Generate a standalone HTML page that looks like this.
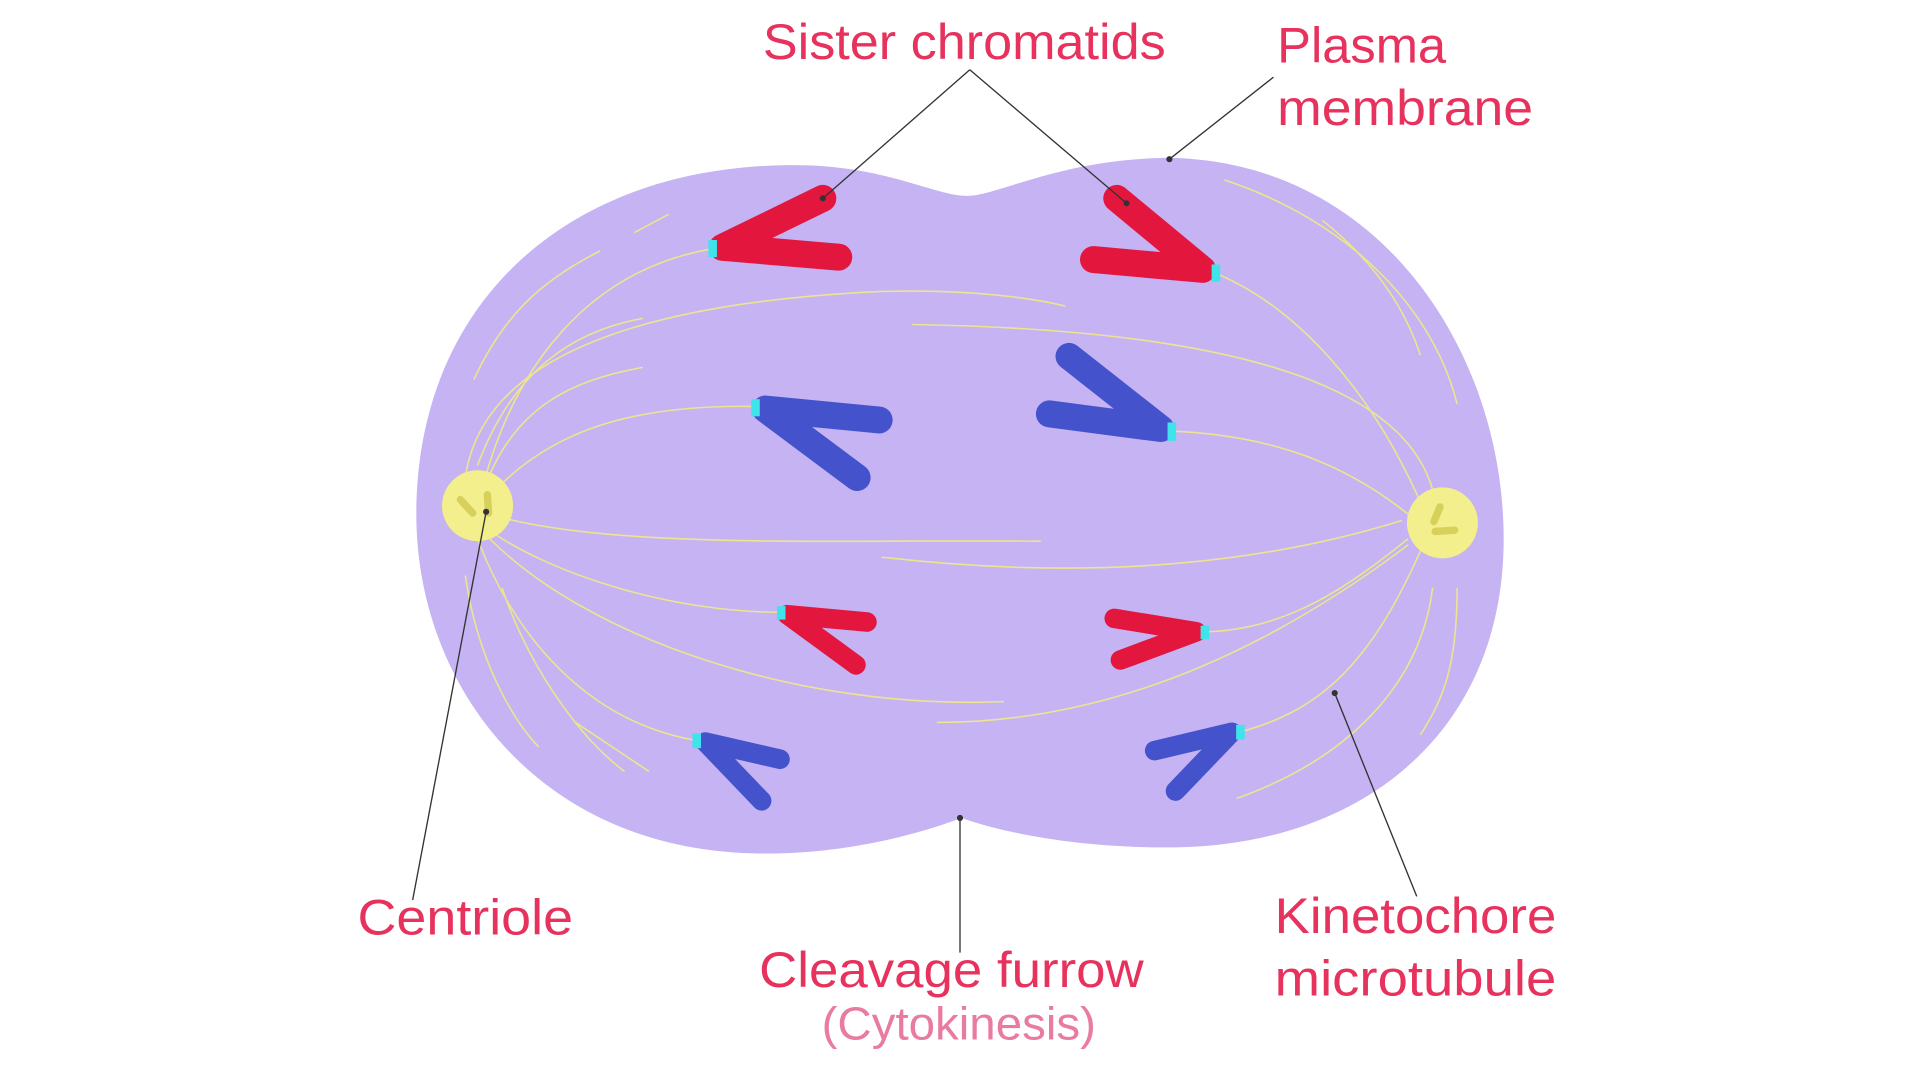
<!DOCTYPE html>
<html><head><meta charset="utf-8"><style>
html,body{margin:0;padding:0;background:#fff;width:1920px;height:1080px;overflow:hidden}
svg{display:block}
text{font-family:"Liberation Sans",sans-serif;fill:#e6325c}
</style></head><body>
<svg width="1920" height="1080" viewBox="0 0 1568 882">
<path fill="#c5b3f3" d="M790,160 C815,160 870,128 960,129 C1130,135 1228,290 1228,440 C1228,600 1110,690 960,692 C880,693 820,680 785,668 C740,685 680,698 620,697 C440,695 340,560 340,420 C340,250 460,138 640,135 C720,133 762,160 790,160 Z"/>
<g fill="none" stroke="#ece58f" stroke-width="1.3">
<path d="M400,405 C450,350 520,330 618,332"/>
<path d="M395,395 C420,300 480,220 583,203"/>
<path d="M400,420 C500,450 700,440 850,442"/>
<path d="M395,430 C450,470 550,500 638,500"/>
<path d="M390,440 C420,520 480,590 570,605"/>
<path d="M400,440 C480,520 650,580 820,573"/>
<path d="M380,390 C390,320 460,250 720,238 C800,236 850,245 870,250"/>
<path d="M390,380 C420,300 470,270 525,260"/>
<path d="M395,400 C420,330 470,310 525,300"/>
<path d="M518,190 L546,175"/>
<path d="M387,310 C410,260 440,230 490,205"/>
<path d="M1150,420 C1100,380 1040,355 955,352"/>
<path d="M1160,410 C1120,320 1060,250 990,222"/>
<path d="M1145,425 C1000,470 850,470 720,455"/>
<path d="M1150,440 C1100,480 1050,515 983,516"/>
<path d="M1160,450 C1120,540 1080,580 1012,598"/>
<path d="M1150,445 C1050,520 920,590 765,590"/>
<path d="M1170,400 C1150,330 1050,270 745,265"/>
<path d="M1000,147 C1100,180 1170,250 1190,330"/>
<path d="M1080,180 C1130,220 1150,260 1160,290"/>
<path d="M1170,480 C1160,560 1100,620 1010,652"/>
<path d="M1190,480 C1190,540 1180,570 1160,600"/>
<path d="M410,480 C430,540 470,600 510,630"/>
<path d="M470,590 L530,630"/>
<path d="M380,470 C390,540 420,590 440,610"/>
</g>
<g>
<circle cx="390" cy="413" r="29" fill="#f3ef8c"/>
<line x1="376" y1="408" x2="386" y2="419" stroke="#d7d05a" stroke-width="6" stroke-linecap="round"/>
<line x1="398" y1="404" x2="399" y2="419" stroke="#d7d05a" stroke-width="6" stroke-linecap="round"/>
</g>
<g>
<circle cx="1178" cy="427" r="29" fill="#f3ef8c"/>
<line x1="1176" y1="414" x2="1171" y2="426" stroke="#d7d05a" stroke-width="6" stroke-linecap="round"/>
<line x1="1172" y1="434" x2="1188" y2="433" stroke="#d7d05a" stroke-width="6" stroke-linecap="round"/>
</g>
<g fill="none" stroke-linecap="round" stroke-linejoin="round">
<g stroke="#e3173e" stroke-width="22">
<polyline points="672,162 590,202 685,210"/>
<polyline points="912,162 982,220 893,212"/>
</g>
<g stroke="#4453cc" stroke-width="22">
<polyline points="718,343 625,334 700,390"/>
<polyline points="873,291 948,350 857,338"/>
</g>
<g stroke="#e3173e" stroke-width="16">
<polyline points="708,508 643,502 699,543"/>
<polyline points="910,505 977,516 915,539"/>
</g>
<g stroke="#4453cc" stroke-width="16">
<polyline points="637,620 576,606 622,654"/>
<polyline points="943,613 1006,598 960,646"/>
</g>
<g stroke="#3fe3ea" stroke-width="7" stroke-linecap="butt">
<line x1="582" y1="196" x2="582" y2="210"/>
<line x1="993" y1="216" x2="993" y2="230"/>
<line x1="617" y1="326" x2="617" y2="340"/>
<line x1="957" y1="345" x2="957" y2="360"/>
<line x1="638" y1="495" x2="638" y2="506"/>
<line x1="984" y1="511" x2="984" y2="522"/>
<line x1="569" y1="599" x2="569" y2="611"/>
<line x1="1013" y1="592" x2="1013" y2="604"/>
</g>
</g>
<g stroke="#333" stroke-width="1.1">
<line x1="792" y1="57" x2="672" y2="162"/>
<line x1="792" y1="57" x2="920" y2="166"/>
<line x1="1040" y1="63" x2="955" y2="130"/>
<line x1="337" y1="735" x2="397" y2="418"/>
<line x1="784" y1="778" x2="784" y2="668"/>
<line x1="1157" y1="732" x2="1090" y2="566"/>
</g>
<g fill="#333"><circle cx="672" cy="162" r="2.5"/><circle cx="920" cy="166" r="2.5"/><circle cx="955" cy="130" r="2.5"/><circle cx="397" cy="418" r="2.5"/><circle cx="784" cy="668" r="2.5"/><circle cx="1090" cy="566" r="2.5"/></g>
<g font-size="41" lengthAdjust="spacingAndGlyphs">
<text x="623" y="48" textLength="329" lengthAdjust="spacingAndGlyphs">Sister chromatids</text>
<text x="1043" y="51" textLength="138" lengthAdjust="spacingAndGlyphs">Plasma</text>
<text x="1043" y="102" textLength="209" lengthAdjust="spacingAndGlyphs">membrane</text>
<text x="292" y="763" textLength="176" lengthAdjust="spacingAndGlyphs">Centriole</text>
<text x="620" y="806" textLength="314" lengthAdjust="spacingAndGlyphs">Cleavage furrow</text>
<text x="671" y="849" font-size="38" textLength="224" lengthAdjust="spacingAndGlyphs" style="fill:#ea7ba0">(Cytokinesis)</text>
<text x="1041" y="762" textLength="230" lengthAdjust="spacingAndGlyphs">Kinetochore</text>
<text x="1041" y="813" textLength="230" lengthAdjust="spacingAndGlyphs">microtubule</text>
</g>
</svg>
</body></html>
